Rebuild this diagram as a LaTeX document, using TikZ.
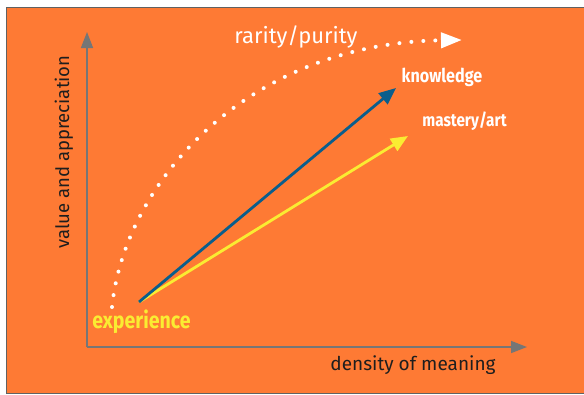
\documentclass[tikz,border=0pt]{standalone}
\usepackage{fontspec}
\setmainfont{Fira Sans}
\newfontfamily\narrowfont[FakeStretch=0.85]{Fira Sans}
\usetikzlibrary{arrows.meta}
\definecolor{bgorange}{RGB}{254,122,52}
\definecolor{axisgray}{RGB}{118,118,118}
\definecolor{knowblue}{RGB}{10,94,140}
\definecolor{artyellow}{RGB}{250,236,50}
\definecolor{inkdark}{RGB}{30,30,30}

\begin{document}
\begin{tikzpicture}[x=1pt,y=-1pt,
    axis/.style={draw=axisgray,line width=1.6pt,-{Triangle[length=16pt,width=12pt]}},
    vector/.style={line width=2.8pt,-{Triangle[length=17pt,width=14pt]}},
    dotline/.style={draw=white,line width=4pt,line cap=round,dash pattern=on 0pt off 12pt,
        -{Triangle[length=21pt,width=15pt,fill=white]}},
    axislabel/.style={anchor=base,font=\fontsize{19}{22}\selectfont,text=inkdark},
    boldlabel/.style={anchor=base,font=\narrowfont\bfseries\fontsize{19}{22}\selectfont}]
    %initialisation
    \useasboundingbox (0,0) rectangle (584,394);
    \fill[white] (0,0) rectangle (584,394);
    \draw[fill=bgorange,draw=inkdark!70,line width=0.8pt] (6.5,7.5) rectangle (590,393.5);
    %definitions
    \coordinate (O) at (87,347);
    \coordinate (Y) at (87,32);
    \coordinate (X) at (527,347);
    \coordinate (S) at (139,302);
    \coordinate (K) at (396,88);
    \coordinate (M) at (408,136);
    \coordinate (R0) at (112,307);
    \coordinate (R1) at (462,40);
    %drawing
    \draw[axis] (O) -- (Y);
    \draw[axis] (O) -- (X);
    \draw[dotline] (R0) .. controls (125,180) and (250,43) .. (R1);
    \draw[vector,draw=artyellow,-{Triangle[length=17pt,width=14pt,fill=artyellow]}] (S) -- (M);
    \draw[vector,draw=knowblue,-{Triangle[length=17pt,width=14pt,fill=knowblue]}] (S) -- (K);
    %label
    \node[axislabel,text=white,font=\fontsize{22}{26}\selectfont] (rarity) at (296,43) {rarity/purity};
    \node[axislabel] (density) at (413,370) {density of meaning};
    \node[axislabel,rotate=90,font=\fontsize{18.5}{22}\selectfont] (value) at (69,152) {value and appreciation};
    \node[boldlabel,text=artyellow,font=\narrowfont\bfseries\fontsize{23}{26}\selectfont] (exp) at (141.5,328) {experience};
    \node[boldlabel,text=white] (know) at (442,82) {knowledge};
    \node[boldlabel,text=white,font=\narrowfont\bfseries\fontsize{18}{22}\selectfont] (art) at (464.5,126) {mastery/art};
\end{tikzpicture}
\end{document}
